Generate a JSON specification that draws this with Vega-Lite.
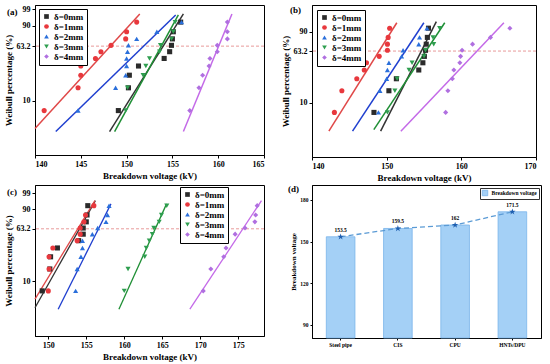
{
"$schema": "https://vega.github.io/schema/vega-lite/v6.json",
"background": "white",
"padding": {"left": 3, "top": 4, "right": 4, "bottom": 2},
"config": {
  "font": "Liberation Serif",
  "view": {"stroke": "#000", "strokeWidth": 1},
  "axis": {"labelFont": "Liberation Serif", "labelFontWeight": "bold", "labelFontSize": 8, "titleFont": "Liberation Serif", "titleFontWeight": "bold", "titleFontSize": 9, "grid": false, "domainColor": "#000", "tickColor": "#000", "labelColor": "#000", "titleColor": "#000", "tickSize": 3, "labelPadding": 2, "titlePadding": 3},
  "legend": {"labelFont": "Liberation Serif", "labelFontWeight": "bold", "labelColor": "#000"},
  "title": {"font": "Liberation Serif", "fontWeight": "bold", "fontSize": 9, "color": "#000"}
},
"datasets": {
  "a_pts": [
    {"g":"δ=0mm","v":149.1,"w":-2.664},{"g":"δ=0mm","v":150.2,"w":-1.723},{"g":"δ=0mm","v":150.3,"w":-1.202},{"g":"δ=0mm","v":151.3,"w":-0.822},{"g":"δ=0mm","v":154.1,"w":-0.509},{"g":"δ=0mm","v":154.7,"w":-0.230},{"g":"δ=0mm","v":154.9,"w":0.033},{"g":"δ=0mm","v":155.0,"w":0.299},{"g":"δ=0mm","v":155.1,"w":0.594},{"g":"δ=0mm","v":155.9,"w":0.993},
    {"g":"δ=1mm","v":141.0,"w":-2.664},{"g":"δ=1mm","v":144.7,"w":-1.723},{"g":"δ=1mm","v":145.0,"w":-1.202},{"g":"δ=1mm","v":145.0,"w":-0.822},{"g":"δ=1mm","v":146.6,"w":-0.509},{"g":"δ=1mm","v":147.2,"w":-0.230},{"g":"δ=1mm","v":148.3,"w":0.033},{"g":"δ=1mm","v":149.9,"w":0.299},{"g":"δ=1mm","v":150.0,"w":0.594},{"g":"δ=1mm","v":151.1,"w":0.993},
    {"g":"δ=2mm","v":144.7,"w":-2.664},{"g":"δ=2mm","v":148.8,"w":-1.723},{"g":"δ=2mm","v":149.9,"w":-1.202},{"g":"δ=2mm","v":150.0,"w":-0.822},{"g":"δ=2mm","v":150.0,"w":-0.509},{"g":"δ=2mm","v":150.1,"w":-0.230},{"g":"δ=2mm","v":150.2,"w":0.033},{"g":"δ=2mm","v":151.1,"w":0.299},{"g":"δ=2mm","v":153.3,"w":0.594},{"g":"δ=2mm","v":156.0,"w":0.993},
    {"g":"δ=3mm","v":149.9,"w":-2.664},{"g":"δ=3mm","v":150.1,"w":-1.723},{"g":"δ=3mm","v":151.8,"w":-1.202},{"g":"δ=3mm","v":152.1,"w":-0.822},{"g":"δ=3mm","v":152.5,"w":-0.509},{"g":"δ=3mm","v":153.6,"w":-0.230},{"g":"δ=3mm","v":153.7,"w":0.033},{"g":"δ=3mm","v":154.9,"w":0.299},{"g":"δ=3mm","v":155.1,"w":0.594},{"g":"δ=3mm","v":155.3,"w":0.993},
    {"g":"δ=4mm","v":156.9,"w":-2.664},{"g":"δ=4mm","v":157.9,"w":-1.723},{"g":"δ=4mm","v":158.3,"w":-1.202},{"g":"δ=4mm","v":159.0,"w":-0.822},{"g":"δ=4mm","v":159.1,"w":-0.509},{"g":"δ=4mm","v":159.9,"w":-0.230},{"g":"δ=4mm","v":159.9,"w":0.033},{"g":"δ=4mm","v":161.0,"w":0.299},{"g":"δ=4mm","v":161.0,"w":0.594},{"g":"δ=4mm","v":161.0,"w":0.993}
  ],
  "a_lines": [
    {"g":"δ=0mm","v":148.14,"w":-3.53},{"g":"δ=0mm","v":156.2,"w":1.33},
    {"g":"δ=1mm","v":140.0,"w":-3.40},{"g":"δ=1mm","v":151.44,"w":1.33},
    {"g":"δ=2mm","v":142.27,"w":-3.53},{"g":"δ=2mm","v":155.36,"w":1.29},
    {"g":"δ=3mm","v":148.69,"w":-3.53},{"g":"δ=3mm","v":155.65,"w":1.29},
    {"g":"δ=4mm","v":156.2,"w":-3.53},{"g":"δ=4mm","v":161.5,"w":1.33}
  ],
  "b_pts": [
    {"g":"δ=0mm","v":148.3,"w":-2.664},{"g":"δ=0mm","v":150.3,"w":-1.723},{"g":"δ=0mm","v":151.3,"w":-1.202},{"g":"δ=0mm","v":154.3,"w":-0.822},{"g":"δ=0mm","v":154.85,"w":-0.509},{"g":"δ=0mm","v":155.05,"w":-0.230},{"g":"δ=0mm","v":155.2,"w":0.033},{"g":"δ=0mm","v":155.3,"w":0.299},{"g":"δ=0mm","v":155.45,"w":0.594},{"g":"δ=0mm","v":155.6,"w":0.993},
    {"g":"δ=1mm","v":143.0,"w":-2.664},{"g":"δ=1mm","v":144.0,"w":-1.723},{"g":"δ=1mm","v":146.0,"w":-1.202},{"g":"δ=1mm","v":147.0,"w":-0.822},{"g":"δ=1mm","v":147.3,"w":-0.509},{"g":"δ=1mm","v":149.0,"w":-0.230},{"g":"δ=1mm","v":150.1,"w":0.033},{"g":"δ=1mm","v":150.1,"w":0.299},{"g":"δ=1mm","v":150.2,"w":0.594},{"g":"δ=1mm","v":150.4,"w":0.993},
    {"g":"δ=2mm","v":148.9,"w":-2.664},{"g":"δ=2mm","v":149.1,"w":-1.723},{"g":"δ=2mm","v":150.0,"w":-1.202},{"g":"δ=2mm","v":150.1,"w":-0.822},{"g":"δ=2mm","v":150.3,"w":-0.509},{"g":"δ=2mm","v":152.0,"w":-0.230},{"g":"δ=2mm","v":152.2,"w":0.033},{"g":"δ=2mm","v":154.3,"w":0.299},{"g":"δ=2mm","v":154.4,"w":0.594},{"g":"δ=2mm","v":155.4,"w":0.993},
    {"g":"δ=3mm","v":150.1,"w":-2.664},{"g":"δ=3mm","v":151.1,"w":-1.723},{"g":"δ=3mm","v":151.4,"w":-1.202},{"g":"δ=3mm","v":153.0,"w":-0.822},{"g":"δ=3mm","v":153.4,"w":-0.509},{"g":"δ=3mm","v":155.0,"w":-0.230},{"g":"δ=3mm","v":155.2,"w":0.033},{"g":"δ=3mm","v":156.3,"w":0.299},{"g":"δ=3mm","v":156.2,"w":0.594},{"g":"δ=3mm","v":157.1,"w":0.993},
    {"g":"δ=4mm","v":157.9,"w":-2.664},{"g":"δ=4mm","v":158.2,"w":-1.723},{"g":"δ=4mm","v":158.8,"w":-1.202},{"g":"δ=4mm","v":159.0,"w":-0.822},{"g":"δ=4mm","v":159.8,"w":-0.509},{"g":"δ=4mm","v":159.9,"w":-0.230},{"g":"δ=4mm","v":160.1,"w":0.033},{"g":"δ=4mm","v":161.5,"w":0.299},{"g":"δ=4mm","v":163.9,"w":0.594},{"g":"δ=4mm","v":166.5,"w":0.993}
  ],
  "b_lines": [
    {"g":"δ=0mm","v":149.19,"w":-3.48},{"g":"δ=0mm","v":156.65,"w":1.28},
    {"g":"δ=1mm","v":142.26,"w":-3.48},{"g":"δ=1mm","v":151.36,"w":1.23},
    {"g":"δ=2mm","v":145.43,"w":-3.48},{"g":"δ=2mm","v":154.98,"w":1.23},
    {"g":"δ=3mm","v":148.28,"w":-3.41},{"g":"δ=3mm","v":157.78,"w":1.23},
    {"g":"δ=4mm","v":151.9,"w":-3.48},{"g":"δ=4mm","v":165.7,"w":1.23}
  ],
  "c_pts": [
    {"g":"δ=0mm","v":149.2,"w":-2.664},{"g":"δ=0mm","v":150.2,"w":-1.723},{"g":"δ=0mm","v":150.3,"w":-1.202},{"g":"δ=0mm","v":151.2,"w":-0.822},{"g":"δ=0mm","v":154.0,"w":-0.509},{"g":"δ=0mm","v":154.6,"w":-0.230},{"g":"δ=0mm","v":154.6,"w":0.033},{"g":"δ=0mm","v":155.0,"w":0.299},{"g":"δ=0mm","v":155.1,"w":0.594},{"g":"δ=0mm","v":155.2,"w":0.993},
    {"g":"δ=1mm","v":150.0,"w":-2.664},{"g":"δ=1mm","v":150.1,"w":-1.723},{"g":"δ=1mm","v":150.1,"w":-1.202},{"g":"δ=1mm","v":150.6,"w":-0.822},{"g":"δ=1mm","v":153.8,"w":-0.509},{"g":"δ=1mm","v":154.2,"w":-0.230},{"g":"δ=1mm","v":154.2,"w":0.033},{"g":"δ=1mm","v":154.7,"w":0.299},{"g":"δ=1mm","v":154.9,"w":0.594},{"g":"δ=1mm","v":156.0,"w":0.993},
    {"g":"δ=2mm","v":153.6,"w":-2.664},{"g":"δ=2mm","v":153.8,"w":-1.723},{"g":"δ=2mm","v":154.3,"w":-1.202},{"g":"δ=2mm","v":154.5,"w":-0.822},{"g":"δ=2mm","v":154.5,"w":-0.509},{"g":"δ=2mm","v":155.8,"w":-0.230},{"g":"δ=2mm","v":156.5,"w":0.033},{"g":"δ=2mm","v":157.6,"w":0.299},{"g":"δ=2mm","v":157.8,"w":0.594},{"g":"δ=2mm","v":158.0,"w":0.993},
    {"g":"δ=3mm","v":160.0,"w":-2.664},{"g":"δ=3mm","v":160.5,"w":-1.723},{"g":"δ=3mm","v":162.7,"w":-1.202},{"g":"δ=3mm","v":162.9,"w":-0.822},{"g":"δ=3mm","v":163.3,"w":-0.509},{"g":"δ=3mm","v":163.7,"w":-0.230},{"g":"δ=3mm","v":163.9,"w":0.033},{"g":"δ=3mm","v":164.6,"w":0.299},{"g":"δ=3mm","v":164.9,"w":0.594},{"g":"δ=3mm","v":165.6,"w":0.993},
    {"g":"δ=4mm","v":170.4,"w":-2.664},{"g":"δ=4mm","v":171.4,"w":-1.723},{"g":"δ=4mm","v":173.1,"w":-1.202},{"g":"δ=4mm","v":173.4,"w":-0.822},{"g":"δ=4mm","v":173.5,"w":-0.509},{"g":"δ=4mm","v":174.6,"w":-0.230},{"g":"δ=4mm","v":175.9,"w":0.033},{"g":"δ=4mm","v":177.2,"w":0.299},{"g":"δ=4mm","v":177.3,"w":0.594},{"g":"δ=4mm","v":177.5,"w":0.993}
  ],
  "c_lines": [
    {"g":"δ=0mm","v":148.25,"w":-3.39},{"g":"δ=0mm","v":156.2,"w":1.21},
    {"g":"δ=1mm","v":148.25,"w":-3.02},{"g":"δ=1mm","v":156.14,"w":1.21},
    {"g":"δ=2mm","v":151.3,"w":-3.45},{"g":"δ=2mm","v":158.25,"w":1.07},
    {"g":"δ=3mm","v":159.3,"w":-3.45},{"g":"δ=3mm","v":165.57,"w":1.07},
    {"g":"δ=4mm","v":168.64,"w":-3.45},{"g":"δ=4mm","v":178.07,"w":1.21}
  ],
  "d": [
    {"c":"Steel pipe","b":153.5,"s":"Breakdown voltage"},{"c":"CIS","b":159.5,"s":"Breakdown voltage"},{"c":"CPU","b":162,"s":"Breakdown voltage"},{"c":"HNTs/DPU","b":171.5,"s":"Breakdown voltage"}
  ]
},
"columns": 2,
"bounds": "flush",
"spacing": {"row": 28, "column": 48},
"resolve": {"legend": {"fill": "independent", "color": "independent", "shape": "independent"}},
"concat": [
  {
    "width": 229, "height": 150,
    "title": {"text": "(a)", "anchor": "start", "frame": "group", "offset": 0, "dx": -28, "dy": 12},
    "layer": [
      {"data": {"values": [{}]}, "mark": {"type": "rule", "color": "#e89a9a", "strokeDash": [3, 2], "strokeWidth": 1}, "encoding": {"y": {"datum": 0}}},
      {"data": {"name": "a_lines"}, "mark": {"type": "line", "strokeWidth": 1.5},
       "encoding": {"x": {"field": "v", "type": "quantitative"}, "y": {"field": "w", "type": "quantitative"}, "detail": {"field": "g"},
         "stroke": {"field": "g", "type": "nominal", "scale": {"domain": ["δ=0mm","δ=1mm","δ=2mm","δ=3mm","δ=4mm"], "range": ["#333333","#e04848","#1f3fcf","#1f8f35","#c46ae8"]}, "legend": null}}},
      {"data": {"name": "a_pts"}, "mark": {"type": "point", "filled": true, "size": 26, "opacity": 1},
       "encoding": {
         "x": {"field": "v", "type": "quantitative", "scale": {"domain": [140, 165], "nice": false}, "axis": {"values": [140,145,150,155,160,165], "title": "Breakdown voltage (kV)"}},
         "y": {"field": "w", "type": "quantitative", "scale": {"domain": [-4.5, 1.7], "nice": false, "zero": false}, "axis": {"values": [-2.2504, 0, 0.834, 1.5272], "labelExpr": "datum.value < -1 ? '10' : datum.value < 0.5 ? '63.2' : datum.value < 1.2 ? '90' : '99'", "title": "Weibull percentage (%)"}},
         "color": {"field": "g", "type": "nominal", "scale": {"domain": ["δ=0mm","δ=1mm","δ=2mm","δ=3mm","δ=4mm"], "range": ["#2b2b2b","#e8383d","#2a6fdb","#2e9e4f","#b06fe0"]}, "legend": {"title": null, "orient": "top-left", "offset": 4, "strokeColor": "#000", "fillColor": "white", "padding": 3, "labelFontSize": 9, "symbolSize": 22, "rowPadding": 0, "labelOffset": 3}},
         "shape": {"field": "g", "type": "nominal", "scale": {"domain": ["δ=0mm","δ=1mm","δ=2mm","δ=3mm","δ=4mm"], "range": ["square","circle","triangle-up","triangle-down","diamond"]}, "legend": {"title": null, "orient": "top-left", "offset": 4, "strokeColor": "#000", "fillColor": "white", "padding": 3, "labelFontSize": 9, "symbolSize": 22, "rowPadding": 0, "labelOffset": 3}}
       }}
    ]
  },
  {
    "width": 224, "height": 152,
    "title": {"text": "(b)", "anchor": "start", "frame": "group", "offset": 0, "dx": -22, "dy": 10},
    "layer": [
      {"data": {"values": [{}]}, "mark": {"type": "rule", "color": "#e89a9a", "strokeDash": [3, 2], "strokeWidth": 1}, "encoding": {"y": {"datum": 0}}},
      {"data": {"name": "b_lines"}, "mark": {"type": "line", "strokeWidth": 1.5},
       "encoding": {"x": {"field": "v", "type": "quantitative"}, "y": {"field": "w", "type": "quantitative"}, "detail": {"field": "g"},
         "stroke": {"field": "g", "type": "nominal", "scale": {"domain": ["δ=0mm","δ=1mm","δ=2mm","δ=3mm","δ=4mm"], "range": ["#222222","#e84545","#2a6fdb","#2e9e60","#a374d8"]}, "legend": null}}},
      {"data": {"name": "b_pts"}, "mark": {"type": "point", "filled": true, "size": 26, "opacity": 1},
       "encoding": {
         "x": {"field": "v", "type": "quantitative", "scale": {"domain": [140, 170], "nice": false}, "axis": {"values": [140,150,160,170], "title": "Breakdown voltage (kV)"}},
         "y": {"field": "w", "type": "quantitative", "scale": {"domain": [-4.6, 2.0], "nice": false, "zero": false}, "axis": {"values": [-2.2504, 0, 0.834], "labelExpr": "datum.value < -1 ? '10' : datum.value < 0.5 ? '63.2' : '90'", "title": "Weibull percentage (%)"}},
         "color": {"field": "g", "type": "nominal", "scale": {"domain": ["δ=0mm","δ=1mm","δ=2mm","δ=3mm","δ=4mm"], "range": ["#2b2b2b","#e8383d","#2a6fdb","#2e9e4f","#b06fe0"]}, "legend": {"title": null, "orient": "top-left", "offset": 5, "strokeColor": "#000", "fillColor": "white", "padding": 3, "labelFontSize": 9, "symbolSize": 22, "rowPadding": 0, "labelOffset": 3}},
         "shape": {"field": "g", "type": "nominal", "scale": {"domain": ["δ=0mm","δ=1mm","δ=2mm","δ=3mm","δ=4mm"], "range": ["square","circle","triangle-up","triangle-down","diamond"]}, "legend": {"title": null, "orient": "top-left", "offset": 5, "strokeColor": "#000", "fillColor": "white", "padding": 3, "labelFontSize": 9, "symbolSize": 22, "rowPadding": 0, "labelOffset": 3}}
       }}
    ]
  },
  {
    "width": 229, "height": 151,
    "title": {"text": "(c)", "anchor": "start", "frame": "group", "offset": 0, "dx": -28, "dy": 12},
    "layer": [
      {"data": {"values": [{}]}, "mark": {"type": "rule", "color": "#e89a9a", "strokeDash": [3, 2], "strokeWidth": 1}, "encoding": {"y": {"datum": 0}}},
      {"data": {"name": "c_lines"}, "mark": {"type": "line", "strokeWidth": 1.3},
       "encoding": {"x": {"field": "v", "type": "quantitative"}, "y": {"field": "w", "type": "quantitative"}, "detail": {"field": "g"},
         "stroke": {"field": "g", "type": "nominal", "scale": {"domain": ["δ=0mm","δ=1mm","δ=2mm","δ=3mm","δ=4mm"], "range": ["#444444","#b8524e","#3a7bd5","#3a9f6a","#a585d8"]}, "legend": null}}},
      {"data": {"name": "c_pts"}, "mark": {"type": "point", "filled": true, "size": 26, "opacity": 1},
       "encoding": {
         "x": {"field": "v", "type": "quantitative", "scale": {"domain": [148.25, 178.4], "nice": false, "zero": false}, "axis": {"values": [150,155,160,165,170,175], "title": "Breakdown voltage (kV)"}},
         "y": {"field": "w", "type": "quantitative", "scale": {"domain": [-4.6, 1.88], "nice": false, "zero": false}, "axis": {"values": [-2.2504, 0, 0.834, 1.5272], "labelExpr": "datum.value < -1 ? '10' : datum.value < 0.5 ? '63.2' : datum.value < 1.2 ? '90' : '99'", "title": "Weibull percentage (%)"}},
         "color": {"field": "g", "type": "nominal", "scale": {"domain": ["δ=0mm","δ=1mm","δ=2mm","δ=3mm","δ=4mm"], "range": ["#333333","#e8383d","#2f7fdc","#3aa66c","#b07ee0"]}, "legend": {"title": null, "orient": "none", "legendX": 145, "legendY": 2, "strokeColor": "#000", "fillColor": "white", "padding": 3, "labelFontSize": 9, "symbolSize": 22, "rowPadding": 0, "labelOffset": 3}},
         "shape": {"field": "g", "type": "nominal", "scale": {"domain": ["δ=0mm","δ=1mm","δ=2mm","δ=3mm","δ=4mm"], "range": ["square","circle","triangle-up","triangle-down","diamond"]}, "legend": {"title": null, "orient": "none", "legendX": 145, "legendY": 2, "strokeColor": "#000", "fillColor": "white", "padding": 3, "labelFontSize": 9, "symbolSize": 22, "rowPadding": 0, "labelOffset": 3}}
       }}
    ]
  },
  {
    "width": 229, "height": 153,
    "data": {"name": "d"},
    "title": {"text": "(d)", "anchor": "start", "frame": "group", "offset": 0, "dx": -24, "dy": 9},
    "encoding": {"x": {"field": "c", "type": "nominal", "sort": null, "scale": {"paddingInner": 0.5, "paddingOuter": 0.25}, "axis": {"title": null, "labelAngle": 0, "labelFontSize": 5.5, "tickSize": 2}}},
    "layer": [
      {"mark": {"type": "bar", "stroke": "#78b4ea", "strokeWidth": 0.8},
       "encoding": {
         "y": {"field": "b", "type": "quantitative", "scale": {"domain": [80.6, 190.8], "nice": false, "zero": false}, "axis": {"values": [90, 120, 150, 180], "title": "Breakdown voltage", "labelFontSize": 5.5, "titleFontSize": 7, "tickSize": 2}},
         "y2": {"datum": 80.6},
         "fill": {"field": "s", "type": "nominal", "scale": {"range": ["#a4d0f6"]}, "legend": {"title": null, "orient": "none", "legendX": 168, "legendY": 3, "strokeColor": "#333", "fillColor": "white", "padding": 1.5, "labelFontSize": 5.5, "symbolType": "square", "symbolSize": 30, "symbolStrokeColor": "#78b4ea", "symbolStrokeWidth": 0.8, "labelOffset": 3}}
       }},
      {"mark": {"type": "line", "color": "#5b9bd5", "strokeDash": [5, 3], "strokeWidth": 1.3}, "encoding": {"y": {"field": "b", "type": "quantitative"}}},
      {"mark": {"type": "point", "shape": "M0,-1L0.2245,-0.309L0.951,-0.309L0.363,0.118L0.588,0.809L0,0.382L-0.588,0.809L-0.363,0.118L-0.951,-0.309L-0.2245,-0.309Z", "filled": true, "color": "#1f5fb0", "size": 45, "opacity": 1}, "encoding": {"y": {"field": "b", "type": "quantitative"}}},
      {"mark": {"type": "text", "dy": -7, "fontSize": 5.5, "fontWeight": "bold", "font": "Liberation Serif", "color": "#000"}, "encoding": {"y": {"field": "b", "type": "quantitative"}, "text": {"field": "b", "type": "quantitative"}}}
    ]
  }
]
}
